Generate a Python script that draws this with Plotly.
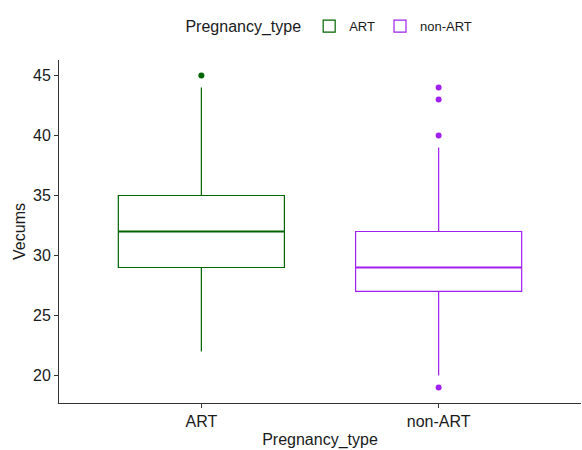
import plotly.graph_objects as go

categories = ["ART", "non-ART"]
colors = ["#006400", "#A020F0"]
q1 = [29, 27]
median = [32, 29]
q3 = [35, 32]
lower_whisker = [22, 20]
upper_whisker = [44, 39]
outliers = [[45], [44, 43, 40, 19]]

box_width = 0.7
font_family = "Liberation Sans, Arial, sans-serif"
text_color = "#1a1a1a"

fig = go.Figure()
for i, cat in enumerate(categories):
    pos = i + 1
    fig.add_trace(go.Box(
        x=[pos], q1=[q1[i]], median=[median[i]], q3=[q3[i]],
        lowerfence=[lower_whisker[i]], upperfence=[upper_whisker[i]],
        name=cat, width=box_width, whiskerwidth=0,
        line=dict(color=colors[i], width=1.2),
        fillcolor="rgba(255,255,255,0)",
        boxpoints=False, showlegend=True, legendgroup=cat,
    ))
    # thicker median line (ggplot fatten)
    fig.add_trace(go.Scatter(
        x=[pos - box_width / 2, pos + box_width / 2],
        y=[median[i], median[i]], mode="lines",
        line=dict(color=colors[i], width=2.2),
        showlegend=False, hoverinfo="skip", legendgroup=cat,
    ))
    fig.add_trace(go.Scatter(
        x=[pos] * len(outliers[i]), y=outliers[i], mode="markers",
        marker=dict(color=colors[i], size=6),
        showlegend=False, legendgroup=cat,
    ))

fig.update_layout(
    width=582, height=450,
    margin=dict(l=59, r=1, t=60, b=47),
    plot_bgcolor="white", paper_bgcolor="white",
    font=dict(family=font_family, color=text_color),
    legend=dict(
        orientation="h", x=0.52, xanchor="center",
        yref="container", y=0.975, yanchor="top",
        title=dict(text="Pregnancy_type", font=dict(size=16, color=text_color)),
        font=dict(size=13, color=text_color),
        itemwidth=30,
    ),
    xaxis=dict(
        range=[0.4, 2.6], tickvals=[1, 2], ticktext=categories,
        showline=True, linecolor="#333333", linewidth=1,
        ticks="outside", ticklen=4, tickcolor="#333333",
        tickfont=dict(size=16, color=text_color),
        showgrid=False, zeroline=False, automargin=True,
        title=dict(text="Pregnancy_type", font=dict(size=16, color=text_color), standoff=4),
    ),
    yaxis=dict(
        range=[17.7, 46.3], tickvals=[20, 25, 30, 35, 40, 45],
        showline=True, linecolor="#333333", linewidth=1,
        ticks="outside", ticklen=4, tickcolor="#333333",
        tickfont=dict(size=16, color=text_color),
        showgrid=False, zeroline=False, automargin=True,
        title=dict(text="Vecums", font=dict(size=16, color=text_color), standoff=3),
    ),
)

fig.write_html(
    "out.html",
    config={"displayModeBar": False},
    post_script="document.body.style.margin='0px';document.body.style.overflow='hidden';",
)
